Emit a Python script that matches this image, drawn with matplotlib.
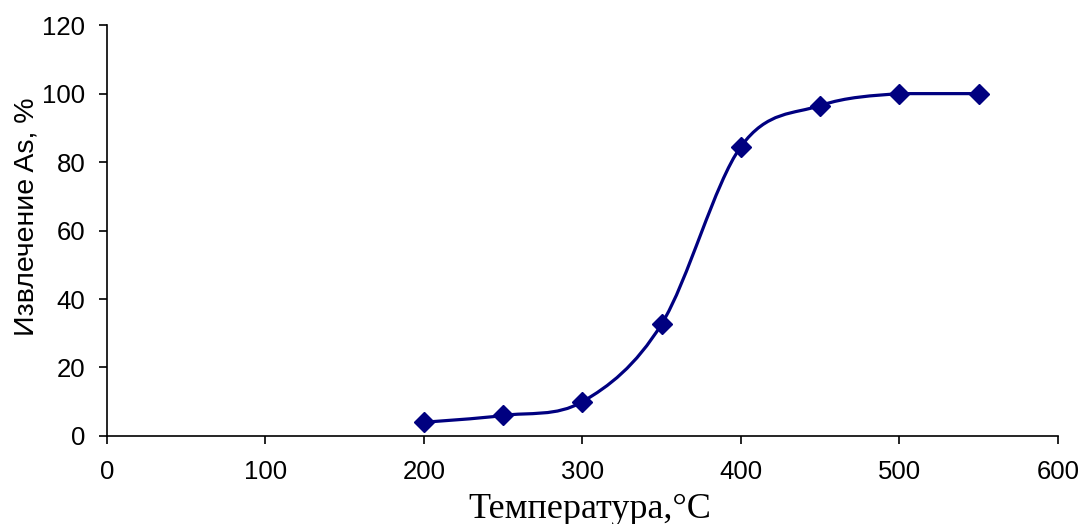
import numpy as np
import matplotlib
matplotlib.use("Agg")
import matplotlib.pyplot as plt
from matplotlib.path import Path
from matplotlib.patches import PathPatch

temperature = [200, 250, 300, 350, 400, 450, 500, 550]
extraction = [4, 6, 10, 32.7, 84.5, 96.5, 100, 100]
x_ticks = [0, 100, 200, 300, 400, 500, 600]
y_ticks = [0, 20, 40, 60, 80, 100, 120]

color = "#000080"

fig = plt.figure(figsize=(10.86, 5.24), dpi=100)
ax = fig.add_axes([0.0985, 0.168, 0.8755, 0.784])

# Excel-style smoothed line: cardinal Bezier segments through the points
pts = np.column_stack([temperature, extraction]).astype(float)
verts = [tuple(pts[0])]
codes = [Path.MOVETO]
n = len(pts)
for i in range(n - 1):
    p0 = pts[i - 1] if i > 0 else pts[i]
    p1 = pts[i]
    p2 = pts[i + 1]
    p3 = pts[i + 2] if i + 2 < n else pts[i + 1]
    c1 = p1 + (p2 - p0) / 6.0
    c2 = p2 - (p3 - p1) / 6.0
    if p1[1] == p2[1]:
        c1[1] = p1[1]
        c2[1] = p2[1]
    verts += [tuple(c1), tuple(c2), tuple(p2)]
    codes += [Path.CURVE4] * 3
ax.add_patch(PathPatch(Path(verts, codes), fill=False, edgecolor=color, lw=2.3,
                       zorder=2, capstyle="round", joinstyle="round"))

ax.plot(temperature, extraction, linestyle="none", marker="D", ms=10.5,
        mfc=color, mec=color, zorder=3)

ax.set_xlim(0, 600)
ax.set_ylim(0, 120)
ax.set_xticks(x_ticks)
ax.set_yticks(y_ticks)
for s in ["top", "right"]:
    ax.spines[s].set_visible(False)
for s in ["left", "bottom"]:
    ax.spines[s].set_linewidth(1.2)
ax.tick_params(direction="out", length=5.5, width=1.2, labelsize=18.5)
ax.tick_params(axis="x", pad=12)
ax.tick_params(axis="y", pad=10)
for lab in ax.get_xticklabels() + ax.get_yticklabels():
    lab.set_fontfamily("Liberation Sans")

fig.text(27 / 1086, 1 - 217 / 524, "Извлечение As, %", rotation=90,
         ha="center", va="center", fontsize=20.5, family="Liberation Sans")
fig.text(590 / 1086, 1 - 518 / 524, "Температура,°C", ha="center",
         va="baseline", fontsize=26, family="Liberation Serif")

fig.savefig("out.png", dpi=100)
